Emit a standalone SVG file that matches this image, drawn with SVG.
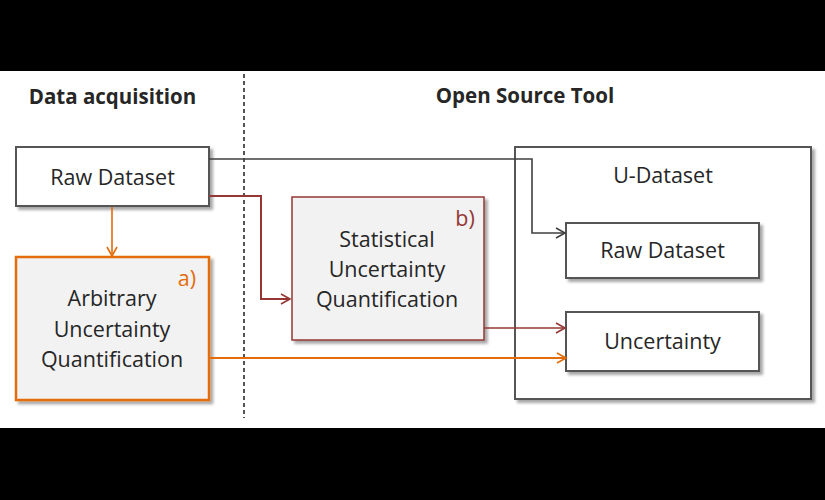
<svg xmlns="http://www.w3.org/2000/svg" width="825" height="500" viewBox="0 0 825 500">
<defs>
<style>
.node{stroke:#555555;stroke-width:2;fill:#ffffff;}
.lbl{font-family:"Open Sans","DejaVu Sans",sans-serif;font-size:21.5px;fill:#262626;text-anchor:middle;}
.hdr{font-family:"Open Sans","DejaVu Sans",sans-serif;font-size:20.5px;font-weight:bold;fill:#262626;text-anchor:middle;}
.tag{font-family:"Open Sans","DejaVu Sans",sans-serif;font-size:21.5px;text-anchor:middle;}
.conn{fill:none;}
</style>
<filter id="sh" x="-10%" y="-10%" width="130%" height="130%">
<feGaussianBlur in="SourceAlpha" stdDeviation="1.8"/>
<feOffset dx="3" dy="3" result="b"/>
<feComponentTransfer><feFuncA type="linear" slope="0.35"/></feComponentTransfer>
<feMerge><feMergeNode/><feMergeNode in="SourceGraphic"/></feMerge>
</filter>
<marker id="ag" markerWidth="12" markerHeight="12" refX="10" refY="6" orient="auto" markerUnits="userSpaceOnUse">
<path d="M1,1 L10,6 L1,11" fill="none" stroke="#404040" stroke-width="1.6"/>
</marker>
<marker id="ar" markerWidth="12" markerHeight="12" refX="10" refY="6" orient="auto" markerUnits="userSpaceOnUse">
<path d="M1,1 L10,6 L1,11" fill="none" stroke="#953735" stroke-width="1.6"/>
</marker>
<marker id="ao" markerWidth="12" markerHeight="12" refX="10" refY="6" orient="auto" markerUnits="userSpaceOnUse">
<path d="M1,1 L10,6 L1,11" fill="none" stroke="#E46C0A" stroke-width="1.6"/>
</marker>
</defs>
<rect x="0" y="0" width="825" height="500" fill="#ffffff"/>
<rect x="0" y="0" width="825" height="71" fill="#000000"/>
<rect x="0" y="428" width="825" height="72" fill="#000000"/>
<line x1="244" y1="74" x2="244" y2="418" stroke="#555555" stroke-width="2" stroke-dasharray="4,3"/>
<text class="hdr" x="112.5" y="104">Data acquisition</text>
<text class="hdr" x="525" y="103">Open Source Tool</text>

<g id="udataset">
<rect class="node" x="515" y="147" width="296" height="252" stroke-width="1.5" filter="url(#sh)"/>
<text class="lbl" x="663" y="183">U-Dataset</text>
</g>
<g id="raw-left">
<rect class="node" x="16" y="147" width="193" height="59" filter="url(#sh)"/>
<text class="lbl" x="112.5" y="185">Raw Dataset</text>
</g>
<g id="arbitrary">
<rect x="16" y="257" width="193" height="143" fill="#f2f2f2" stroke="#E46C0A" stroke-width="2.5" filter="url(#sh)"/>
<text class="tag" x="187" y="286" fill="#E46C0A">a)</text>
<text class="lbl" x="112" y="306">Arbitrary</text>
<text class="lbl" x="112" y="337">Uncertainty</text>
<text class="lbl" x="112" y="367">Quantification</text>
</g>
<g id="statistical">
<rect x="292" y="197" width="192" height="143" fill="#f2f2f2" stroke="#953735" stroke-width="1.5" filter="url(#sh)"/>
<text class="tag" x="465" y="226" fill="#953735">b)</text>
<text class="lbl" x="387" y="247">Statistical</text>
<text class="lbl" x="387" y="277">Uncertainty</text>
<text class="lbl" x="387" y="307">Quantification</text>
</g>
<g id="raw-right">
<rect class="node" x="566" y="223" width="193" height="55" filter="url(#sh)"/>
<text class="lbl" x="662.5" y="258">Raw Dataset</text>
</g>
<g id="uncertainty">
<rect class="node" x="566" y="312" width="193" height="59" filter="url(#sh)"/>
<text class="lbl" x="662.5" y="349">Uncertainty</text>
</g>

<g id="connectors">
<path class="conn" d="M209,159 H532 V233 H565" stroke="#404040" stroke-width="1.6" marker-end="url(#ag)"/>
<path class="conn" d="M209,196 H261 V299 H290" stroke="#953735" stroke-width="2" marker-end="url(#ar)"/>
<path class="conn" d="M484,328 H565" stroke="#953735" stroke-width="1.3" marker-end="url(#ar)"/>
<path class="conn" d="M209,358 H566" stroke="#E46C0A" stroke-width="2" marker-end="url(#ao)"/>
<path class="conn" d="M112,207 V256" stroke="#E46C0A" stroke-width="1.6" marker-end="url(#ao)"/>
</g>
</svg>
